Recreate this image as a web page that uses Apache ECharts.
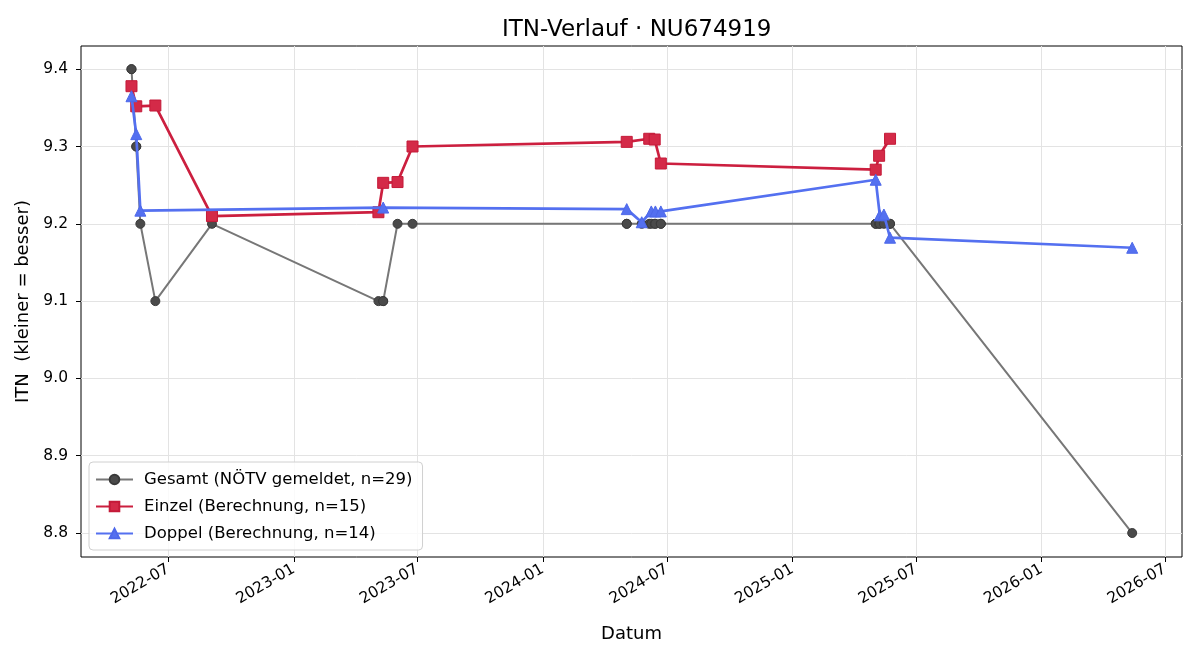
<!DOCTYPE html>
<html>
<head>
<meta charset="utf-8">
<script src="https://cdn.jsdelivr.net/npm/echarts@6/dist/echarts.min.js"></script>
<style>
  html, body { margin: 0; padding: 0; background: #fff; }
  #chart { width: 1200px; height: 660px; }
</style>
</head>
<body>
<div id="chart"></div>
<script>
(function (echarts) {
    'use strict';

    // Gesamt (NÖTV gemeldet)
    const gesamtDates = [
        '2022-05-08', '2022-05-08', '2022-05-15', '2022-05-15', '2022-05-21', '2022-06-12', '2022-09-03',
        '2023-05-05', '2023-05-12', '2023-05-12', '2023-06-02', '2023-06-24',
        '2024-05-03', '2024-05-03', '2024-05-25', '2024-06-05', '2024-06-08', '2024-06-13', '2024-06-14',
        '2024-06-22', '2024-06-22',
        '2025-05-03', '2025-05-03', '2025-05-08', '2025-05-09', '2025-05-15', '2025-05-24', '2025-05-24',
        '2026-05-14'
    ];
    const gesamtValues = [
        9.4, 9.4, 9.3, 9.3, 9.2, 9.1, 9.2,
        9.1, 9.1, 9.1, 9.2, 9.2,
        9.2, 9.2, 9.2, 9.2, 9.2, 9.2, 9.2,
        9.2, 9.2,
        9.2, 9.2, 9.2, 9.2, 9.2, 9.2, 9.2,
        8.8
    ];

    // Einzel (Berechnung)
    const einzelDates = [
        '2022-05-08', '2022-05-15', '2022-06-12', '2022-09-03',
        '2023-05-05', '2023-05-12', '2023-06-02', '2023-06-24',
        '2024-05-03', '2024-06-05', '2024-06-13', '2024-06-22',
        '2025-05-03', '2025-05-08', '2025-05-24'
    ];
    const einzelValues = [
        9.378, 9.352, 9.353, 9.210,
        9.215, 9.253, 9.254, 9.300,
        9.306, 9.310, 9.309, 9.278,
        9.270, 9.288, 9.310
    ];

    // Doppel (Berechnung)
    const doppelDates = [
        '2022-05-08', '2022-05-15', '2022-05-21',
        '2023-05-12',
        '2024-05-03', '2024-05-25', '2024-06-08', '2024-06-14', '2024-06-22',
        '2025-05-03', '2025-05-09', '2025-05-15', '2025-05-24',
        '2026-05-14'
    ];
    const doppelValues = [
        9.365, 9.316, 9.217,
        9.221,
        9.219, 9.202, 9.216, 9.216, 9.216,
        9.257, 9.211, 9.212, 9.182,
        9.169
    ];

    const xTicks = ['2022-07-01', '2023-01-01', '2023-07-01', '2024-01-01', '2024-07-01',
        '2025-01-01', '2025-07-01', '2026-01-01', '2026-07-01'];
    const yTicks = [8.8, 8.9, 9.0, 9.1, 9.2, 9.3, 9.4];

    const font = 'DejaVu Sans';
    const toTime = d => Date.parse(d + 'T00:00:00Z');
    const pair = (dates, values) => dates.map((d, i) => [toTime(d), values[i]]);
    const xTickTimes = xTicks.map(toTime);

    const chart = echarts.init(document.getElementById('chart'), null, { renderer: 'canvas' });

    chart.setOption({
        animation: false,
        backgroundColor: '#fff',
        textStyle: { fontFamily: font },
        title: {
            // centred over the plot area, not the page
            text: 'ITN-Verlauf · NU674919',
            left: 497,
            top: 14,
            textStyle: { fontFamily: font, fontSize: 23, fontWeight: 'normal', color: '#000' }
        },
        grid: {
            left: 81, right: 18, top: 46, bottom: 103,
            show: true, borderColor: '#000', borderWidth: 1, backgroundColor: '#fff'
        },
        legend: {
            orient: 'vertical',
            left: 89, top: 462,
            padding: [9, 10, 8, 6],
            itemGap: 10,
            itemWidth: 37, itemHeight: 12,
            borderColor: '#d0d0d0', borderWidth: 1, borderRadius: 4,
            backgroundColor: 'rgba(255,255,255,0.8)',
            textStyle: { fontFamily: font, fontSize: 16.5, color: '#000', padding: [0, 0, 0, 6] },
            data: ['Gesamt (NÖTV gemeldet, n=29)', 'Einzel (Berechnung, n=15)', 'Doppel (Berechnung, n=14)']
        },
        xAxis: {
            type: 'value',
            min: toTime('2022-02-23'),
            max: toTime('2026-07-26'),
            name: 'Datum',
            nameLocation: 'middle',
            nameGap: 68,
            nameTextStyle: { fontFamily: font, fontSize: 18, color: '#000' },
            axisLine: { show: false },
            axisTick: { show: true, length: 5, lineStyle: { color: '#000' }, customValues: xTickTimes },
            axisLabel: {
                customValues: xTickTimes,
                rotate: 30,
                fontFamily: font, fontSize: 15.5, color: '#000',
                margin: 11,
                formatter: function (value) {
                    const d = new Date(value);
                    const m = d.getUTCMonth() + 1;
                    return d.getUTCFullYear() + '-' + (m < 10 ? '0' + m : m);
                }
            },
            splitLine: { show: true, lineStyle: { color: '#e3e3e3', width: 1 } }
        },
        yAxis: {
            type: 'value',
            min: 8.769,
            max: 9.43,
            name: 'ITN  (kleiner = besser)',
            nameLocation: 'middle',
            nameGap: 42,
            nameTextStyle: { fontFamily: font, fontSize: 18, color: '#000' },
            axisLine: { show: false },
            axisTick: { show: true, length: 5, lineStyle: { color: '#000' }, customValues: yTicks },
            axisLabel: {
                customValues: yTicks,
                fontFamily: font, fontSize: 15.5, color: '#000',
                margin: 13,
                formatter: v => v.toFixed(1)
            },
            splitLine: { show: true, lineStyle: { color: '#e3e3e3', width: 1 } }
        },
        series: [
            {
                name: 'Gesamt (NÖTV gemeldet, n=29)',
                type: 'line',
                data: pair(gesamtDates, gesamtValues),
                symbol: 'circle',
                symbolSize: 9,
                lineStyle: { color: '#777777', width: 2 },
                itemStyle: { color: '#4a4a4a', borderColor: '#3a3a3a', borderWidth: 1 },
                z: 2
            },
            {
                name: 'Einzel (Berechnung, n=15)',
                type: 'line',
                data: pair(einzelDates, einzelValues),
                symbol: 'rect',
                symbolSize: 11,
                lineStyle: { color: '#cc1f3f', width: 2.7 },
                itemStyle: { color: '#d42a48', borderColor: '#c41a38', borderWidth: 1 },
                z: 3
            },
            {
                name: 'Doppel (Berechnung, n=14)',
                type: 'line',
                data: pair(doppelDates, doppelValues),
                symbol: 'triangle',
                symbolSize: 11,
                lineStyle: { color: '#5470f0', width: 2.7 },
                itemStyle: { color: '#5470f0', borderColor: '#4d68ea', borderWidth: 1 },
                z: 4
            }
        ]
    });
})(echarts);
</script>
</body>
</html>
